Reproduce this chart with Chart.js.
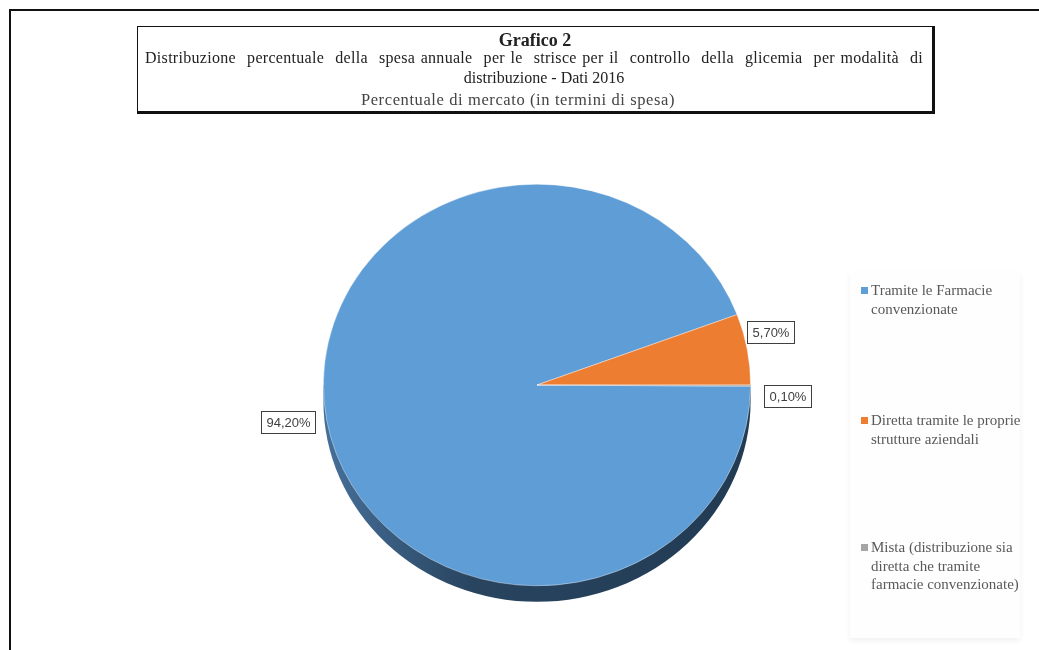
<!DOCTYPE html>
<html lang="it">
<head>
<meta charset="utf-8">
<title>Grafico 2</title>
<script src="https://cdn.jsdelivr.net/npm/chart.js@4"></script>
<style>
    html, body { margin: 0; padding: 0; background: #ffffff; }
    #page { position: relative; width: 1039px; height: 650px; overflow: hidden; background: #ffffff; }
    #frame { position: absolute; left: 9px; top: 9px; width: 1040px; height: 660px; border-left: 2px solid #111; border-top: 2px solid #111; }
    #chart { position: absolute; left: 0; top: 0; }
    #title-box {
        position: absolute; left: 137px; top: 26px; width: 794px; height: 84px;
        border: 1px solid #111; border-right-width: 3px; border-bottom-width: 3px;
        font-family: "Liberation Serif", "Times New Roman", serif; color: #222;
        background: #ffffff;
    }
    #title-box .l1 { position: absolute; top: 3px; width: 100%; text-align: center; font-weight: bold; font-size: 18px; }
    #title-box .l2 { position: absolute; top: 22px; left: 7px; right: 9px; font-size: 16px; letter-spacing: 0.3px; text-align: justify; text-align-last: justify; }
    #title-box .l3 { position: absolute; top: 42px; left: 9px; width: 100%; text-align: center; font-size: 16px; }
    #title-box .l4 { position: absolute; top: 63px; left: -17px; width: 100%; text-align: center; font-size: 16.5px; letter-spacing: 0.6px; color: #444; }
    #legend {
        position: absolute; left: 850px; top: 272px; width: 170px; height: 366px;
        background: #fefefe; box-shadow: 0 3px 6px rgba(0,0,0,0.06);
        font-family: "Liberation Serif", "Times New Roman", serif; font-size: 15px; color: #595959;
    }
    #legend .item { position: absolute; left: 21px; width: 150px; line-height: 18.5px; }
    #legend .box { position: absolute; left: -10px; top: 6px; width: 7px; height: 7px; }
</style>
</head>
<body>
<div id="page">
    <div id="frame"></div>
    <canvas id="chart" width="1039" height="650"></canvas>
    <div id="title-box">
        <div class="l1">Grafico 2</div>
        <div class="l2">Distribuzione&nbsp; percentuale&nbsp; della&nbsp; spesa annuale&nbsp; per le&nbsp; strisce per il&nbsp; controllo&nbsp; della&nbsp; glicemia&nbsp; per modalità&nbsp; di</div>
        <div class="l3">distribuzione - Dati 2016</div>
        <div class="l4">Percentuale di mercato (in termini di spesa)</div>
    </div>
    <div id="legend"></div>
</div>
<script>
/* Data */
const categories = [
    "Tramite le Farmacie convenzionate",
    "Diretta tramite le proprie strutture aziendali",
    "Mista (distribuzione sia diretta che tramite farmacie convenzionate)"
];
const shares = [94.2, 5.7, 0.1]; // percent of the spending
const sliceColors = ["#5f9dd6", "#ed7d31", "#a5a5a5"];

const SQUASH = 0.94; // the pie is seen a little from above
const DEPTH = 16;    // thickness of the 3D side, px
const legendTops = [9, 139, 266];             // top of each legend entry inside the legend box
const labelNudge = [[0, 0], [-12, -15], [1, 10]]; // small shifts so the labels sit like in the picture

function formatShare(v){
    return v.toFixed(2).replace(".", ",") + "%";
}

/* Legend (HTML, built from the same arrays) */
const legend = document.getElementById("legend");
categories.forEach((c, i) => {
    legend.insertAdjacentHTML("beforeend",
        `<div class="item" style="top:${legendTops[i]}px"><span class="box" style="background:${sliceColors[i]}"></span>${c}</div>`);
});

const pie3d = {
    id: "pie3d",
    beforeDatasetsDraw(chart){
        const arc = chart.getDatasetMeta(0).data[0];
        const ctx = chart.ctx;
        const cx = arc.x, cy = arc.y, rx = arc.outerRadius, ry = arc.outerRadius * SQUASH;

        ctx.save();
        // dark side of the pie
        const grad = ctx.createLinearGradient(cx - rx, 0, cx + rx, 0);
        grad.addColorStop(0, "#46709a");
        grad.addColorStop(0.35, "#28445f");
        grad.addColorStop(1, "#223b53");
        ctx.beginPath();
        ctx.moveTo(cx - rx, cy);
        ctx.lineTo(cx - rx, cy + DEPTH);
        ctx.ellipse(cx, cy + DEPTH, rx, ry, 0, Math.PI, 0, true);
        ctx.lineTo(cx + rx, cy);
        ctx.closePath();
        ctx.fillStyle = grad;
        ctx.fill();

        // top face squashed vertically
        ctx.translate(cx, cy);
        ctx.scale(1, SQUASH);
        ctx.translate(-cx, -cy);
    },
    afterDatasetsDraw(chart){
        const ctx = chart.ctx;
        ctx.restore();

        /* Data labels in white boxes */
        const meta = chart.getDatasetMeta(0);
        ctx.save();
        ctx.font = "13px 'Liberation Sans', Arial, sans-serif";
        ctx.textAlign = "center";
        ctx.textBaseline = "middle";
        meta.data.forEach((arc, i) => {
            const mid = (arc.startAngle + arc.endAngle) / 2;
            const R = arc.outerRadius + 12;
            const ax = arc.x + Math.cos(mid) * R;
            const ay = arc.y + Math.sin(mid) * R * SQUASH;
            const text = formatShare(shares[i]);
            const w = Math.round(ctx.measureText(text).width + 10);
            const h = 22;
            let left = Math.cos(mid) >= 0 ? ax : ax - w;
            let top = ay - h / 2;
            left += labelNudge[i][0];
            top += labelNudge[i][1];
            left = Math.round(left) + 0.5;
            top = Math.round(top) + 0.5;
            ctx.fillStyle = "#ffffff";
            ctx.fillRect(left, top, w, h);
            ctx.strokeStyle = "#3f3f3f";
            ctx.lineWidth = 1;
            ctx.strokeRect(left, top, w, h);
            ctx.fillStyle = "#404040";
            ctx.fillText(text, left + w / 2, top + h / 2 + 1);
        });
        ctx.restore();
    }
};

const ctx = document.getElementById("chart").getContext("2d");

new Chart(ctx, {
    type: "pie",
    data: {
        labels: categories,
        datasets: [{
            data: shares,
            backgroundColor: sliceColors,
            borderColor: "rgba(255,255,255,0.5)",
            borderWidth: 0.8
        }]
    },
    options: {
        responsive: false,
        animation: false,
        devicePixelRatio: 1,
        rotation: 90.36, // first slice starts just under 3 o'clock
        layout: {
            padding: { left: 323, right: 288, top: 171, bottom: 51 }
        },
        plugins: {
            legend: { display: false },
            title: { display: false },
            tooltip: { enabled: false }
        }
    },
    plugins: [pie3d]
});
</script>
</body>
</html>
